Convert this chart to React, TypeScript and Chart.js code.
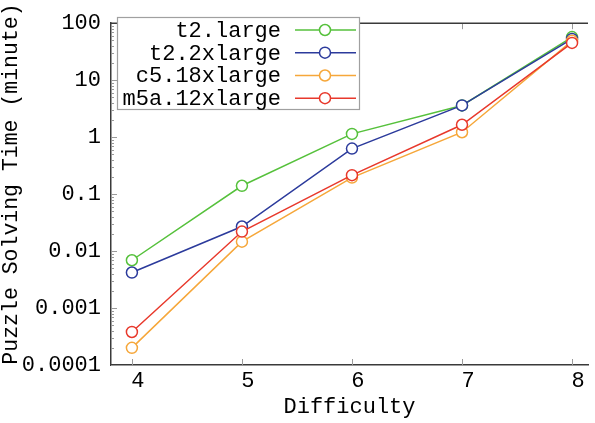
import React, { useEffect, useRef } from "react";
import { Chart, registerables } from "chart.js";

Chart.register(...registerables);

const difficulties = [4, 5, 6, 7, 8];
const seriesNames = ["t2.large", "t2.2xlarge", "c5.18xlarge", "m5a.12xlarge"];
const t2Large = [0.0069, 0.14, 1.14, 3.6, 57];
const t2XXLarge = [0.0042, 0.027, 0.63, 3.6, 53];
const c5Large = [0.0002, 0.0146, 0.195, 1.22, 49];
const m5aLarge = [0.00038, 0.022, 0.215, 1.65, 45];
const seriesColors = ["#56c13c", "#2c3b9c", "#f6a73a", "#e8392c"];
const xTickLabels = ["4", "5", "6", "7", "8"];
const yTickValues = [0.0001, 0.001, 0.01, 0.1, 1, 10, 100];
const yTickLabels = ["0.0001", "0.001", "0.01", "0.1", "1", "10", "100"];
const yTitle = "Puzzle Solving Time (minute)";
const xTitle = "Difficulty";

const FONT = "'Liberation Mono', 'DejaVu Sans Mono', monospace";
const AXIS_COLOR = "#3a3a3a";
const TICK_COLOR = "#9a9a9a";

const framePlugin = {
  id: "framePlugin",
  beforeDatasetsDraw(chart: any) {
    const { ctx, chartArea } = chart;
    const xs = chart.scales.x;
    const ys = chart.scales.y;
    ctx.save();
    ctx.strokeStyle = TICK_COLOR;
    ctx.lineWidth = 1;
    difficulties.forEach((d) => {
      const px = Math.round(xs.getPixelForValue(d)) + 0.5;
      ctx.beginPath();
      ctx.moveTo(px, chartArea.bottom);
      ctx.lineTo(px, chartArea.bottom - 6);
      ctx.moveTo(px, chartArea.top);
      ctx.lineTo(px, chartArea.top + 6);
      ctx.stroke();
    });
    for (let e = -4; e <= 2; e++) {
      const base = Math.pow(10, e);
      const py = Math.round(ys.getPixelForValue(base)) + 0.5;
      ctx.beginPath();
      ctx.moveTo(chartArea.left, py);
      ctx.lineTo(chartArea.left + 6, py);
      ctx.stroke();
      if (e < 2) {
        for (let k = 2; k <= 9; k++) {
          const my = Math.round(ys.getPixelForValue(k * base)) + 0.5;
          ctx.beginPath();
          ctx.moveTo(chartArea.left, my);
          ctx.lineTo(chartArea.left + 3, my);
          ctx.stroke();
        }
      }
    }
    ctx.strokeStyle = AXIS_COLOR;
    ctx.lineWidth = 1.5;
    ctx.beginPath();
    ctx.moveTo(chartArea.left, chartArea.top);
    ctx.lineTo(chartArea.right, chartArea.top);
    ctx.stroke();
    ctx.restore();
  },
  afterDraw(chart: any) {
    const { ctx } = chart;
    ctx.save();
    // y axis title
    ctx.save();
    ctx.translate(11, 184);
    ctx.rotate(-Math.PI / 2);
    ctx.font = `21.5px ${FONT}`;
    ctx.fillStyle = "#000000";
    ctx.textAlign = "center";
    ctx.textBaseline = "middle";
    ctx.fillText(yTitle, 0, 0);
    ctx.restore();
    // legend box
    const bx = 117, by = 17, bw = 242, bh = 92;
    ctx.fillStyle = "#ffffff";
    ctx.fillRect(bx, by, bw, bh);
    ctx.strokeStyle = "#a0a0a0";
    ctx.lineWidth = 1.2;
    ctx.strokeRect(bx + 0.5, by + 0.5, bw, bh);
    const rowsY = [30, 52.7, 75.5, 98.2];
    ctx.font = `22px ${FONT}`;
    ctx.textAlign = "right";
    ctx.textBaseline = "middle";
    chart.data.datasets.forEach((ds: any, i: number) => {
      const y = rowsY[i];
      ctx.fillStyle = "#000000";
      ctx.fillText(ds.label, 281, y + 1);
      ctx.strokeStyle = ds.borderColor;
      ctx.lineWidth = 1.5;
      ctx.beginPath();
      ctx.moveTo(295, y);
      ctx.lineTo(356, y);
      ctx.stroke();
      ctx.beginPath();
      ctx.arc(325, y, 5.5, 0, Math.PI * 2);
      ctx.fillStyle = "#ffffff";
      ctx.fill();
      ctx.stroke();
    });
    ctx.restore();
  },
};

export default function App() {
  const canvasRef = useRef<HTMLCanvasElement | null>(null);

  useEffect(() => {
    if (!canvasRef.current) return;
    const allSeries = [t2Large, t2XXLarge, c5Large, m5aLarge];
    const chart = new Chart(canvasRef.current, {
      type: "line",
      data: {
        datasets: allSeries.map((vals, i) => ({
          label: seriesNames[i],
          data: difficulties.map((d, j) => ({ x: d, y: vals[j] })),
          borderColor: seriesColors[i],
          backgroundColor: "#ffffff",
          pointBackgroundColor: "#ffffff",
          pointBorderColor: seriesColors[i],
          pointRadius: 5.5,
          pointBorderWidth: 1.5,
          borderWidth: 1.5,
          order: allSeries.length - i,
          tension: 0,
        })),
      },
      options: {
        animation: false,
        responsive: false,
        devicePixelRatio: 1,
        layout: { padding: { top: 14, left: 0, right: 0, bottom: 0 } },
        plugins: {
          legend: { display: false },
          tooltip: { enabled: false },
        },
        scales: {
          x: {
            type: "linear",
            min: 3.81,
            max: 8.145,
            afterBuildTicks: (scale: any) => {
              scale.ticks = difficulties.map((v) => ({ value: v }));
            },
            afterFit: (scale: any) => {
              scale.height = 58;
            },
            grid: { display: false, drawTicks: false },
            border: { display: true, color: AXIS_COLOR, width: 1.5 },
            ticks: {
              padding: 3,
              labelOffset: 6,
              color: "#000000",
              font: { family: FONT, size: 22 },
              callback: (v: any) => {
                const idx = difficulties.indexOf(Number(v));
                return idx >= 0 ? xTickLabels[idx] : "";
              },
            },
            title: {
              display: true,
              text: xTitle,
              color: "#000000",
              font: { family: FONT, size: 22, lineHeight: 1 },
              padding: { top: 0, bottom: 5 },
            },
          },
          y: {
            type: "logarithmic",
            min: 0.0001,
            max: 100,
            afterBuildTicks: (scale: any) => {
              scale.ticks = yTickValues.map((v) => ({ value: v }));
            },
            afterFit: (scale: any) => {
              scale.width = 111;
            },
            grid: { display: false, drawTicks: false },
            border: { display: true, color: AXIS_COLOR, width: 1.5 },
            ticks: {
              padding: 10,
              color: "#000000",
              font: { family: FONT, size: 22 },
              callback: (v: any) => {
                const idx = yTickValues.findIndex(
                  (t) => Math.abs(Math.log10(t) - Math.log10(Number(v))) < 1e-6
                );
                return idx >= 0 ? yTickLabels[idx] : "";
              },
            },
            title: { display: false },
          },
        },
      },
      plugins: [framePlugin],
    } as any);
    return () => chart.destroy();
  }, []);

  return (
    <div style={{ position: "fixed", left: 0, top: 0, width: 595, height: 423, background: "#fff" }}>
      <canvas ref={canvasRef} width={595} height={423} style={{ display: "block", width: 595, height: 423 }} />
    </div>
  );
}
